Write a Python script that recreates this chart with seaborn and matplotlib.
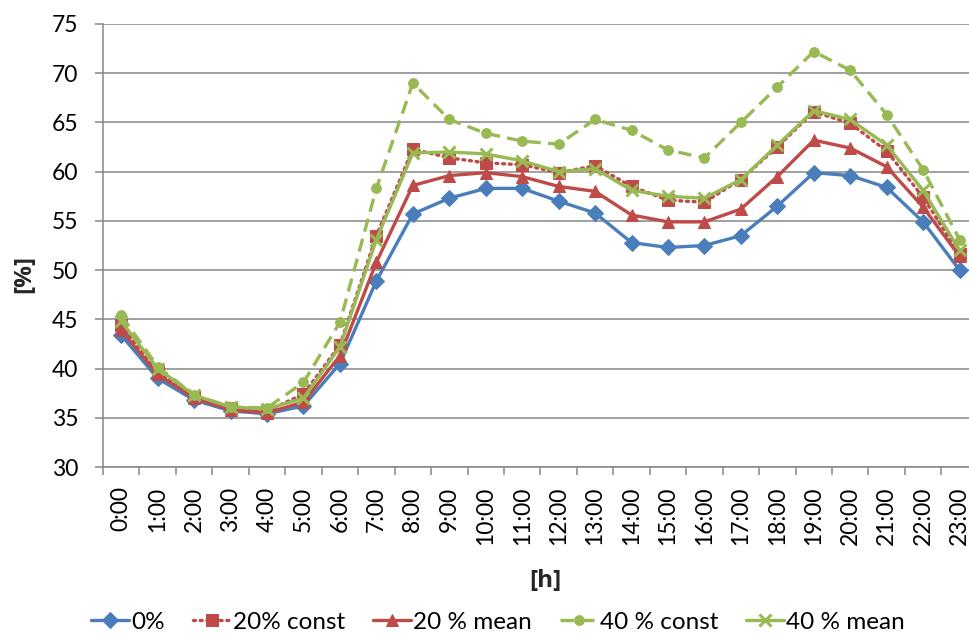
import matplotlib
matplotlib.use("Agg")
import matplotlib.pyplot as plt
import seaborn as sns

hours = [f"{h}:00" for h in range(24)]

share_0 = [43.4, 39.0, 36.8, 35.7, 35.4, 36.2, 40.5, 48.9, 55.7, 57.3, 58.3, 58.3,
           57.0, 55.8, 52.8, 52.3, 52.5, 53.5, 56.5, 59.9, 59.6, 58.4, 54.9, 50.0]
share_20_const = [44.4, 39.6, 37.1, 36.0, 35.7, 37.4, 42.4, 53.5, 62.3, 61.4, 60.9, 60.7,
                  59.9, 60.6, 58.5, 57.1, 56.9, 59.2, 62.5, 66.1, 64.9, 62.1, 57.4, 51.6]
share_20_mean = [43.9, 39.4, 37.0, 35.8, 35.5, 36.6, 41.3, 50.8, 58.6, 59.6, 59.9, 59.5,
                 58.5, 58.0, 55.6, 54.9, 54.9, 56.2, 59.5, 63.2, 62.4, 60.5, 56.4, 51.4]
share_40_const = [45.4, 40.2, 37.3, 36.1, 36.0, 38.6, 44.7, 58.3, 69.0, 65.3, 63.9, 63.1,
                  62.8, 65.3, 64.2, 62.2, 61.4, 65.0, 68.6, 72.2, 70.3, 65.8, 60.2, 53.1]
share_40_mean = [44.8, 40.0, 37.3, 36.1, 35.9, 37.0, 42.2, 53.1, 61.9, 62.0, 61.8, 61.1,
                 60.0, 60.3, 58.1, 57.5, 57.3, 59.2, 62.7, 66.2, 65.3, 62.7, 58.1, 52.0]

series_names = ["0%", "20% const", "20 % mean", "40 % const", "40 % mean"]
series_values = [share_0, share_20_const, share_20_mean, share_40_const, share_40_mean]

BLUE = "#4A7EBB"
RED = "#BE4B48"
GREEN = "#98B954"
AXIS_GREY = "#868686"

styles = {
    "0%": dict(color=BLUE, marker="D", markersize=8, linestyle="-"),
    "20% const": dict(color=RED, marker="s", markersize=8, linestyle=(0, (0.6, 1.4)),
                      dash_capstyle="round"),
    "20 % mean": dict(color=RED, marker="^", markersize=9, linestyle="-"),
    "40 % const": dict(color=GREEN, marker="o", markersize=7, linestyle=(0, (4, 2.2))),
    "40 % mean": dict(color=GREEN, marker="x", markersize=9, markeredgewidth=2.2, linestyle="-"),
}

sns.set_theme(style="white")
plt.rcParams["font.family"] = ["Lato", "DejaVu Sans"]
plt.rcParams["text.color"] = "black"
plt.rcParams["xtick.color"] = AXIS_GREY
plt.rcParams["ytick.color"] = AXIS_GREY
plt.rcParams["xtick.labelcolor"] = "black"
plt.rcParams["ytick.labelcolor"] = "black"

fig = plt.figure(figsize=(9.70, 6.36), dpi=100)
ax = fig.add_axes([103 / 970, 1 - 467 / 636, 24 * 36.45 / 970, (467 - 24) / 636])

x = list(range(len(hours)))
for name, vals in zip(series_names, series_values):
    st = dict(styles[name])
    ls = st.pop("linestyle")
    sns.lineplot(x=x, y=vals, ax=ax, label=name, linewidth=2.4,
                 markeredgecolor=st["color"], **st)
    ax.lines[-1].set_linestyle(ls)

ax.set_xlim(-0.5, 23.5)
ax.set_ylim(30, 75)
ax.set_yticks(range(30, 80, 5))
ax.set_xticks(x)
ax.set_xticklabels(hours, rotation=90, fontsize=16.5)
ax.tick_params(axis="y", labelsize=16.5, length=5.8, width=1.1, direction="out",
               left=True, pad=12)
ax.tick_params(axis="x", which="major", length=0, pad=14)
# tick marks sit on the boundaries between hour categories
ax.set_xticks([i - 0.5 for i in range(25)], minor=True)
ax.tick_params(axis="x", which="minor", length=5.8, width=1.1, bottom=True)

ax.yaxis.grid(True, color=AXIS_GREY, linewidth=1.1)
ax.set_axisbelow(True)
for s in ["top", "right"]:
    ax.spines[s].set_visible(False)
for s in ["left", "bottom"]:
    ax.spines[s].set_color(AXIS_GREY)
    ax.spines[s].set_linewidth(1.1)

label_font = dict(fontsize=17.5, fontweight="bold", family=["Open Sans", "DejaVu Sans"])
ax.set_ylabel("[%]", va="center", ha="center", **label_font)
ax.set_xlabel("[h]", va="center", ha="center", **label_font)
ax.yaxis.set_label_coords(-0.090, 0.436)
ax.xaxis.set_label_coords(0.506, (467 - 581) / 443)

handles, labels = ax.get_legend_handles_labels()
if ax.get_legend() is not None:
    ax.get_legend().remove()
fig.legend(handles, labels, loc="center", bbox_to_anchor=(498 / 970, 1 - 622 / 636),
           ncol=5, frameon=False, fontsize=17.5, handlelength=1.55, handletextpad=0.1,
           columnspacing=1.15, borderpad=0, borderaxespad=0)

fig.savefig("out.png", dpi=100)
